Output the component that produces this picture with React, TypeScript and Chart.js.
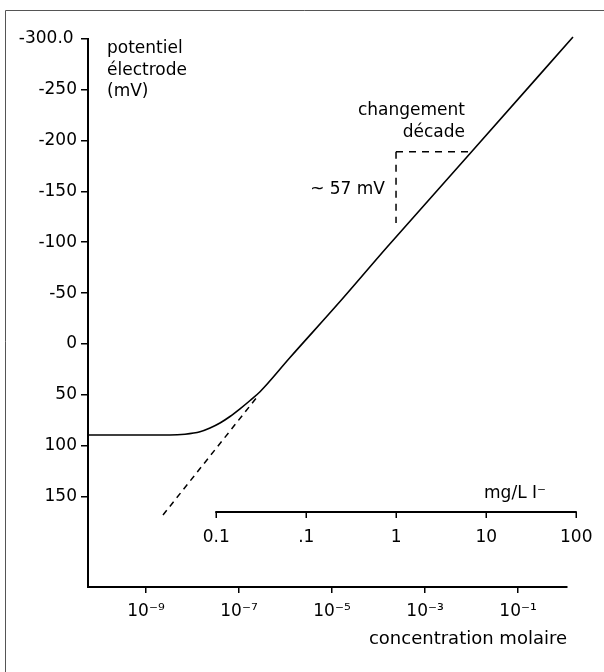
import React, { useEffect, useRef } from "react";
import { Chart, registerables } from "chart.js";

Chart.register(...registerables);

// ---- data ----
// main electrode response curve: molar concentration vs potential (mV)
const CURVE_CONC = [5.66e-11, 3.28e-9, 6.9e-9, 1.45e-8, 2.38e-8, 3.9e-8, 6.4e-8, 1.05e-7, 1.73e-7, 2.83e-7, 1.25e-6, 1.486e-5, 1.5e-4, 9.29e-3, 1.52];
const CURVE_MV = [89.4, 89.4, 88.6, 86.2, 82.5, 77.6, 71.2, 63.7, 55.5, 46.9, 13.3, -41.7, -94.8, -187.1, -301.6];

// dashed extrapolation of the linear (Nernstian) part
const EXTRA_CONC = [2.32e-9, 2.44e-7];
const EXTRA_MV = [168.0, 52.1];

// "changement décade" construction
const DECADE_CONC = [2.38e-4, 9.29e-3];
const DECADE_MV = [-188.9, -118.9];

// axes
const X_MIN = 5.66e-11;
const X_MAX = 1.13;
const X_TICKS = [1e-9, 1e-7, 1e-5, 1e-3, 1e-1];
const X_TICK_LABELS = ["10\u207B\u2079", "10\u207B\u2077", "10\u207B\u2075", "10\u207B\u00B3", "10\u207B\u00B9"];

const Y_MIN = -300;
const Y_MAX = 238.7;
const Y_TICKS = [-300, -250, -200, -150, -100, -50, 0, 50, 100, 150];
const Y_TICK_LABELS = ["-300.0\u2009", "-250", "-200", "-150", "-100", "-50", "0", "50", "100", "150"];

// secondary mg/L axis
const MG_MIN = 3.78e-4;
const MG_MAX = 79.4;
const MG_TICKS = [0.01, 0.1, 1, 10, 100];
const MG_TICK_LABELS = ["0.1", ".1", "1", "10", "100"];
const MG_AXIS_MV = 165;

const FONT = '"DejaVu Sans"';

const overlayPlugin = {
  id: "overlay",
  afterDraw(chart: any) {
    const ctx = chart.ctx as CanvasRenderingContext2D;
    const x2 = chart.scales.x2;
    const y = chart.scales.y;
    ctx.save();

    // frame (left + top)
    ctx.strokeStyle = "#555";
    ctx.lineWidth = 1;
    ctx.beginPath();
    ctx.moveTo(5.5, 672);
    ctx.lineTo(5.5, 10.5);
    ctx.lineTo(604, 10.5);
    ctx.stroke();

    // secondary mg/L axis
    const ay = Math.round(y.getPixelForValue(MG_AXIS_MV));
    const xa = x2.getPixelForValue(MG_TICKS[0]);
    const xb = x2.getPixelForValue(MG_TICKS[MG_TICKS.length - 1]);
    ctx.strokeStyle = "#000";
    ctx.lineWidth = 2;
    ctx.beginPath();
    ctx.moveTo(xa - 0.75, ay);
    ctx.lineTo(xb + 0.75, ay);
    ctx.stroke();
    ctx.lineWidth = 1.5;
    ctx.fillStyle = "#000";
    ctx.font = `17px ${FONT}`;
    ctx.textAlign = "center";
    ctx.textBaseline = "alphabetic";
    MG_TICKS.forEach((v, i) => {
      const px = Math.round(x2.getPixelForValue(v)) + 0.25;
      ctx.beginPath();
      ctx.moveTo(px, ay);
      ctx.lineTo(px, ay + 6);
      ctx.stroke();
      ctx.fillText(MG_TICK_LABELS[i], px, ay + 30);
    });
    ctx.textAlign = "right";
    ctx.fillText("mg/L I\u207B", 546, ay - 14);

    // y-axis caption
    ctx.textAlign = "left";
    ctx.fillText("potentiel", 107, 53);
    ctx.fillText("électrode", 107, 74.5);
    ctx.fillText("(mV)", 107, 96);

    // decade annotation
    ctx.textAlign = "right";
    ctx.fillText("changement", 465, 114.5);
    ctx.fillText("décade", 465, 136.5);
    ctx.fillText("~ 57 mV", 385, 193.5);

    ctx.restore();
  },
};

export default function App() {
  const ref = useRef<HTMLCanvasElement | null>(null);

  useEffect(() => {
    if (!ref.current) return;
    const pts = (xs: number[], ys: number[]) => xs.map((x, i) => ({ x, y: ys[i] }));

    const chart = new Chart(ref.current, {
      type: "line",
      data: {
        datasets: [
          {
            data: pts(CURVE_CONC, CURVE_MV),
            borderColor: "#000",
            borderWidth: 1.6,
            pointRadius: 0,
            cubicInterpolationMode: "monotone",
            clip: false as any,
            fill: false,
          },
          {
            data: pts(EXTRA_CONC, EXTRA_MV),
            borderColor: "#000",
            borderWidth: 1.5,
            borderDash: [6, 5],
            pointRadius: 0,
            fill: false,
          },
          {
            data: [
              { x: DECADE_CONC[0], y: DECADE_MV[0] },
              { x: DECADE_CONC[1], y: DECADE_MV[0] },
            ],
            borderColor: "#000",
            borderWidth: 1.5,
            borderDash: [7, 6],
            pointRadius: 0,
            fill: false,
          },
          {
            data: [
              { x: DECADE_CONC[0], y: DECADE_MV[0] },
              { x: DECADE_CONC[0], y: DECADE_MV[1] },
            ],
            borderColor: "#000",
            borderWidth: 1.5,
            borderDash: [7, 6],
            pointRadius: 0,
            fill: false,
          },
        ],
      },
      options: {
        animation: false,
        responsive: false,
        devicePixelRatio: 1,
        events: [],
        layout: { padding: { left: 0, top: 38.6, right: 37, bottom: 0 } },
        plugins: { legend: { display: false }, tooltip: { enabled: false } },
        scales: {
          x: {
            type: "logarithmic",
            position: "bottom",
            min: X_MIN,
            max: X_MAX,
            bounds: "data",
            afterBuildTicks: (axis: any) => {
              axis.ticks = X_TICKS.map((v) => ({ value: v }));
            },
            afterFit: (axis: any) => {
              axis.height = 85;
            },
            ticks: {
              autoSkip: false,
              maxRotation: 0,
              padding: 8,
              color: "#000",
              font: { family: FONT, size: 17 },
              callback: (_v: any, i: number) => X_TICK_LABELS[i],
            },
            grid: {
              display: true,
              drawOnChartArea: false,
              drawTicks: true,
              tickLength: 6,
              color: "#000",
              lineWidth: 1.5,
            },
            border: { display: true, color: "#000", width: 2 },
            title: {
              display: true,
              text: "concentration molaire",
              align: "end",
              color: "#000",
              font: { family: FONT, size: 18 },
              padding: { top: 0, bottom: 22 },
            },
          },
          x2: {
            type: "logarithmic",
            position: "bottom",
            display: false,
            min: MG_MIN,
            max: MG_MAX,
            bounds: "data",
          },
          y: {
            type: "linear",
            position: "left",
            reverse: true,
            min: Y_MIN,
            max: Y_MAX,
            bounds: "data",
            afterBuildTicks: (axis: any) => {
              axis.ticks = Y_TICKS.map((v) => ({ value: v }));
            },
            afterFit: (axis: any) => {
              axis.width = 88;
            },
            ticks: {
              autoSkip: false,
              padding: 4,
              color: "#000",
              font: { family: FONT, size: 17 },
              callback: (_v: any, i: number) => Y_TICK_LABELS[i],
            },
            grid: {
              display: true,
              drawOnChartArea: false,
              drawTicks: true,
              tickLength: 7,
              color: "#000",
              lineWidth: 1.5,
            },
            border: { display: true, color: "#000", width: 2 },
          },
        },
      } as any,
      plugins: [overlayPlugin],
    });

    return () => chart.destroy();
  }, []);

  return (
    <div style={{ position: "fixed", left: 0, top: 0, width: 604, height: 672, background: "#fff" }}>
      <canvas ref={ref} width={604} height={672} style={{ display: "block", width: 604, height: 672 }} />
    </div>
  );
}
